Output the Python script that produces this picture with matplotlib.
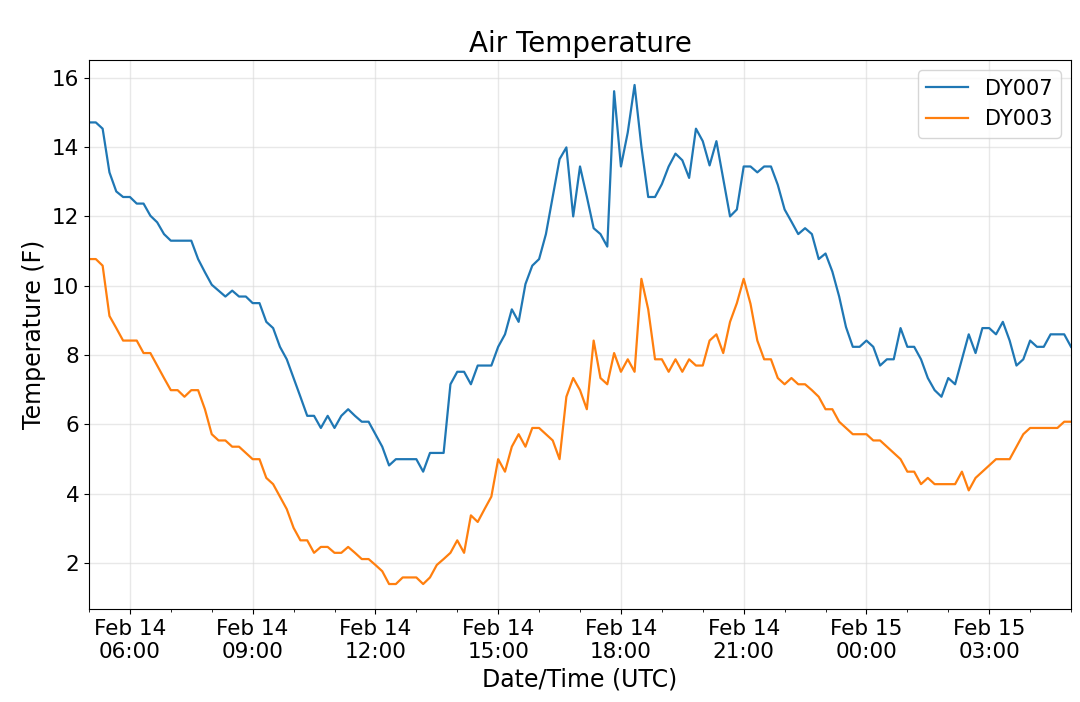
import matplotlib

matplotlib.use("Agg")
import matplotlib.pyplot as plt
import matplotlib.dates as mdates
import numpy as np
import pandas as pd

# 10-minute samples, Feb 14 05:00 -> Feb 15 05:00 UTC
times = pd.date_range("2019-02-14 05:00", "2019-02-15 05:00", freq="10min")

dy007 = [
    14.71, 14.71, 14.53, 13.27, 12.72, 12.56, 12.56, 12.37, 12.37, 12.02,
    11.83, 11.49, 11.30, 11.30, 11.30, 11.30, 10.77, 10.39, 10.03, 9.86,
    9.69, 9.86, 9.69, 9.69, 9.50, 9.50, 8.96, 8.78, 8.24, 7.88,
    7.34, 6.80, 6.25, 6.25, 5.90, 6.25, 5.90, 6.25, 6.44, 6.25,
    6.08, 6.08, 5.72, 5.36, 4.82, 5.00, 5.00, 5.00, 5.00, 4.64,
    5.18, 5.18, 5.18, 7.16, 7.52, 7.52, 7.16, 7.70, 7.70, 7.70,
    8.24, 8.60, 9.32, 8.96, 10.05, 10.58, 10.77, 11.49, 12.57, 13.65,
    13.99, 12.00, 13.44, 12.57, 11.66, 11.49, 11.13, 15.61, 13.44, 14.42,
    15.79, 14.01, 12.56, 12.56, 12.93, 13.44, 13.81, 13.62, 13.11, 14.53,
    14.17, 13.47, 14.17, 13.08, 12.00, 12.20, 13.44, 13.44, 13.27, 13.44,
    13.44, 12.91, 12.20, 11.85, 11.49, 11.66, 11.49, 10.77, 10.93, 10.41,
    9.69, 8.81, 8.24, 8.24, 8.42, 8.24, 7.70, 7.88, 7.88, 8.78,
    8.24, 8.24, 7.88, 7.34, 6.99, 6.80, 7.34, 7.16, 7.88, 8.60,
    8.06, 8.78, 8.78, 8.60, 8.96, 8.42, 7.70, 7.88, 8.42, 8.24,
    8.24, 8.60, 8.60, 8.60, 8.24,
]

dy003 = [
    10.77, 10.77, 10.58, 9.13, 8.78, 8.42, 8.42, 8.42, 8.06, 8.06,
    7.70, 7.34, 6.99, 6.99, 6.80, 6.99, 6.99, 6.44, 5.72, 5.54,
    5.54, 5.36, 5.36, 5.18, 5.00, 5.00, 4.46, 4.28, 3.92, 3.56,
    3.02, 2.66, 2.66, 2.30, 2.47, 2.47, 2.30, 2.30, 2.47, 2.30,
    2.12, 2.12, 1.95, 1.77, 1.40, 1.40, 1.59, 1.59, 1.59, 1.40,
    1.59, 1.95, 2.12, 2.30, 2.66, 2.30, 3.38, 3.19, 3.56, 3.92,
    5.00, 4.64, 5.36, 5.72, 5.36, 5.90, 5.90, 5.72, 5.54, 5.00,
    6.80, 7.34, 6.99, 6.44, 8.42, 7.34, 7.16, 8.06, 7.52, 7.88,
    7.52, 10.20, 9.32, 7.88, 7.88, 7.52, 7.88, 7.52, 7.88, 7.70,
    7.70, 8.42, 8.60, 8.06, 8.96, 9.50, 10.20, 9.48, 8.42, 7.88,
    7.88, 7.34, 7.16, 7.34, 7.16, 7.16, 6.99, 6.80, 6.44, 6.44,
    6.08, 5.90, 5.72, 5.72, 5.72, 5.54, 5.54, 5.36, 5.18, 5.00,
    4.64, 4.64, 4.28, 4.46, 4.28, 4.28, 4.28, 4.28, 4.64, 4.10,
    4.46, 4.64, 4.82, 5.00, 5.00, 5.00, 5.36, 5.72, 5.90, 5.90,
    5.90, 5.90, 5.90, 6.08, 6.08,
]

figure, axis = plt.subplots(figsize=(10.8, 7.02), dpi=100)
figure.subplots_adjust(left=0.0824, right=0.9917, top=0.9145, bottom=0.1325)

axis.plot(times, dy007, color="tab:blue", linewidth=1.6, label="DY007")
axis.plot(times, dy003, color="tab:orange", linewidth=1.6, label="DY003")

axis.set_xlim(times[0], times[-1])
axis.xaxis.set_major_locator(mdates.HourLocator(byhour=range(0, 24, 3)))
axis.xaxis.set_minor_locator(mdates.HourLocator())
axis.xaxis.set_major_formatter(mdates.DateFormatter("%b %d\n%H:%M"))
axis.tick_params(axis="both", which="major", labelsize=15.5)

axis.grid(True, which="major", color="#d9d9d9", linewidth=1.0, alpha=0.6)
axis.set_title("Air Temperature", fontsize=20)
axis.set_xlabel("Date/Time (UTC)", fontsize=17)
axis.set_ylabel("Temperature (F)", fontsize=17)
axis.legend(loc="upper right", fontsize=15)

figure.savefig("out.png", dpi=100)
plt.close(figure)
